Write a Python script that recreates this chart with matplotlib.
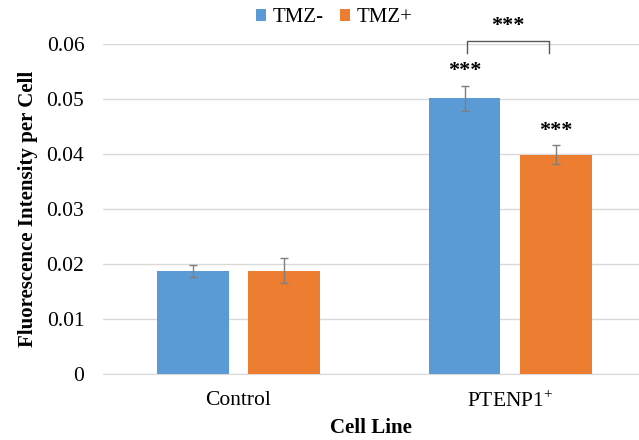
import matplotlib
matplotlib.use("Agg")
import matplotlib.pyplot as plt
import numpy as np

categories = ["Control", r"PTENP1$^{\mathrm{+}}$"]
series_names = ["TMZ-", "TMZ+"]
tmz_minus = [0.0187, 0.0501]
tmz_plus = [0.0188, 0.0399]
err_minus = [0.0011, 0.0022]
err_plus = [0.0023, 0.0018]
yticks = [0, 0.01, 0.02, 0.03, 0.04, 0.05, 0.06]
ytick_labels = ["0", "0.01", "0.02", "0.03", "0.04", "0.05", "0.06"]

plt.rcParams['font.family'] = ['Liberation Serif', 'DejaVu Serif']
plt.rcParams['mathtext.fontset'] = 'custom'
plt.rcParams['mathtext.rm'] = 'Liberation Serif'

fig = plt.figure(figsize=(6.39, 4.4), dpi=100)
ax = fig.add_axes([103/639, (440-374)/440, (639-103)/639, (374-44)/440])

x = np.arange(len(categories))
w = 0.265
off = 0.1676
c1, c2 = '#5B9BD5', '#ED7D31'
ekw = dict(ecolor='#7F7F7F', elinewidth=1, capsize=3, capthick=1)
b1 = ax.bar(x - off, tmz_minus, w, color=c1, yerr=err_minus, error_kw=ekw, label=series_names[0], zorder=3)
b2 = ax.bar(x + off, tmz_plus, w, color=c2, yerr=err_plus, error_kw=ekw, label=series_names[1], zorder=3)

ax.set_xlim(-0.499, 1.475)
ax.set_ylim(0, 0.06)
ax.set_yticks(yticks)
ax.set_yticklabels(ytick_labels)
ax.set_xticks(x)
ax.set_xticklabels(categories)
ax.yaxis.grid(True, color='#D9D9D9', linewidth=1, zorder=0)
for s in ['top', 'right', 'left']:
    ax.spines[s].set_visible(False)
ax.spines['bottom'].set_color('#D9D9D9')
ax.tick_params(axis='both', length=0, labelsize=15.5)
ax.tick_params(axis='x', pad=12)
ax.tick_params(axis='y', pad=13.5)

ax.set_xlabel('Cell Line', fontsize=15, fontweight='bold', labelpad=4.5)
ax.set_ylabel('Fluorescence Intensity per Cell', fontsize=15, fontweight='bold', labelpad=6)

# significance stars
ax.text(1 - off, tmz_minus[1] + err_minus[1] + 0.0027, '***', ha='center', va='center', fontsize=16, fontweight='bold')
ax.text(1 + off, tmz_plus[1] + err_plus[1] + 0.0025, '***', ha='center', va='center', fontsize=16, fontweight='bold')
# bracket
yb = 0.06055
ax.plot([1 - off + 0.01, 1 - off + 0.01, 1 + off - 0.024, 1 + off - 0.024], [0.05836, yb, yb, 0.05836],
        color='#595959', linewidth=1, clip_on=False)
ax.text(1 - 0.009, 0.0632, '***', ha='center', va='center', fontsize=16, fontweight='bold', clip_on=False)

fig.legend(handles=[b1, b2], labels=series_names, loc='center', bbox_to_anchor=(334.5/639, 1 - 18/440),
           ncol=2, frameon=False, fontsize=15, handlelength=0.48, handleheight=0.48, handletextpad=0.3,
           columnspacing=0.8)

fig.savefig('out.png', dpi=100)
